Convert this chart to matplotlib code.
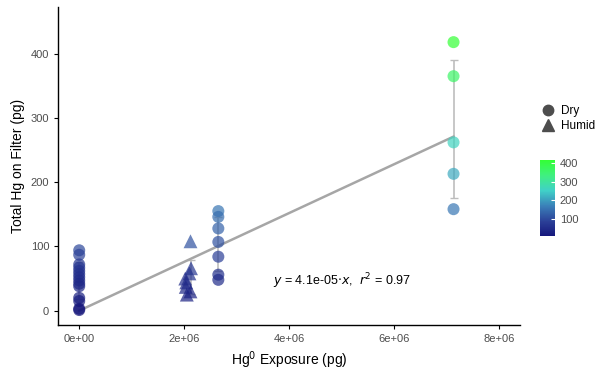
import numpy as np
import matplotlib
matplotlib.use("Agg")
import matplotlib.pyplot as plt
from matplotlib.colors import LinearSegmentedColormap, Normalize
from matplotlib.lines import Line2D

plt.rcParams['font.family'] = ['Liberation Sans', 'DejaVu Sans']

# exposure (pg) and total Hg on filter (pg) for each group
dry0_x = [0.0] * 14
dry0_y = [94, 87, 72, 67, 62, 57, 52, 47, 42, 38, 20, 15, 3, 1]
humid_x = [2.12e6, 2.13e6, 2.1e6, 2.02e6, 2.04e6, 2.03e6, 2.12e6, 2.05e6]
humid_y = [108, 66, 58, 50, 44, 37, 30, 25]
dry1_x = [2.65e6] * 7
dry1_y = [155, 146, 128, 107, 84, 56, 48]
dry2_x = [7.13e6] * 5
dry2_y = [418, 365, 262, 213, 158]

fit_slope = 3.8e-5
fit_end = 7.13e6

cmap = LinearSegmentedColormap.from_list(
    'hg', ['#14147a', '#2b3f97', '#3a7fb8', '#40d0c8', '#40f080', '#33ff33'])
norm = Normalize(vmin=0, vmax=420)

fig = plt.figure(figsize=(6, 3.75), dpi=100)
ax = fig.add_axes([0.097, 0.133, 0.77, 0.848])

groups = [(dry0_x, dry0_y, 'o', 75), (humid_x, humid_y, '^', 100),
          (dry1_x, dry1_y, 'o', 75), (dry2_x, dry2_y, 'o', 75)]

# error bars (mean +/- sd), drawn at the first x of each group
for gx, gy, m, sz in groups:
    gy = np.array(gy, dtype=float)
    ax.errorbar([gx[0]], [gy.mean()], yerr=[gy.std(ddof=1)], fmt='none',
                ecolor='#bdbdbd', elinewidth=1.2, capsize=3, capthick=1, zorder=1)

# fitted line
xs = np.array([0, fit_end])
ax.plot(xs, fit_slope * xs, color='#a6a6a6', lw=1.8, zorder=2)

for gx, gy, m, sz in groups:
    ax.scatter(gx, gy, c=gy, cmap=cmap, norm=norm, marker=m,
               s=sz, alpha=0.7, edgecolors='none', zorder=3)

ax.text(5.0e6, 46, r'$y$ = 4.1e-05$\cdot$$x$,  $r^2$ = 0.97', fontsize=9,
        ha='center', va='center')

ax.set_xlim(-0.4e6, 8.4e6)
ax.set_ylim(-22.5, 472.5)
ax.set_xticks([0, 2e6, 4e6, 6e6, 8e6])
ax.set_xticklabels(['0e+00', '2e+06', '4e+06', '6e+06', '8e+06'])
ax.set_yticks([0, 100, 200, 300, 400])
for s in ['top', 'right']:
    ax.spines[s].set_visible(False)
for s in ['left', 'bottom']:
    ax.spines[s].set_linewidth(1.0)
ax.tick_params(labelsize=8, colors='black', length=3, labelcolor='#4d4d4d')
ax.set_xlabel(r'Hg$^0$ Exposure (pg)', fontsize=10)
ax.set_ylabel('Total Hg on Filter (pg)', fontsize=10)

# shape legend
handles = [Line2D([], [], marker='o', ls='none', color='#4d4d4d', ms=7.5),
           Line2D([], [], marker='^', ls='none', color='#4d4d4d', ms=8.5)]
fig.legend(handles, ['Dry', 'Humid'], loc='upper left',
           bbox_to_anchor=(0.885, 0.732), frameon=False, fontsize=8.5,
           handletextpad=0.1, labelspacing=0.25, borderaxespad=0)

# colour bar
cax = fig.add_axes([0.9, 0.37, 0.025, 0.203])
sm = plt.cm.ScalarMappable(cmap=cmap, norm=norm)
cb = fig.colorbar(sm, cax=cax, ticks=[100, 200, 300, 400])
cb.outline.set_visible(False)
cb.ax.tick_params(labelsize=8, length=3, color='white', direction='in',
                  labelcolor='#4d4d4d')
cax.set_ylim(5, 418)

fig.savefig('out.png', dpi=100)
